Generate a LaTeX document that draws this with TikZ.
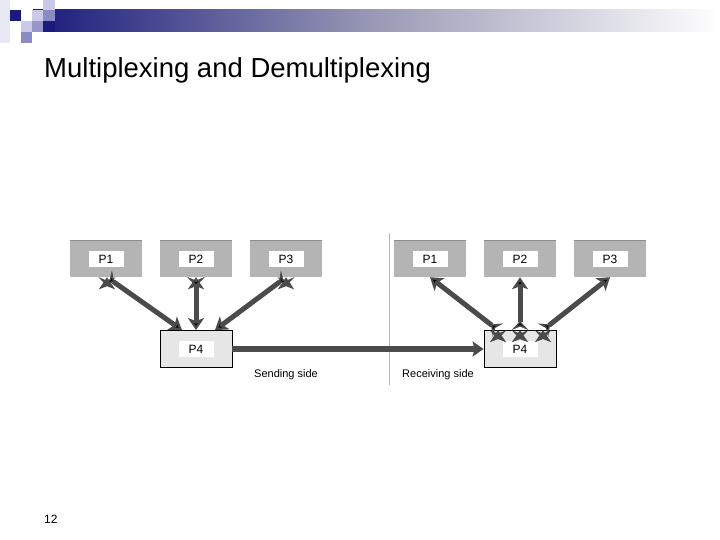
\documentclass[tikz,border=0pt]{standalone}
\usepackage{fontspec}
\setmainfont{Liberation Sans}
\usetikzlibrary{arrows.meta}

\definecolor{navy}{HTML}{1B1B7D}
\definecolor{lavlight}{HTML}{CACAE8}
\definecolor{lavmid}{HTML}{8A8AC4}
\definecolor{lavpale}{HTML}{E9E9F5}
\definecolor{barmid}{HTML}{9A9AB6}
\definecolor{procgray}{HTML}{B4B4B4}
\definecolor{procedge}{HTML}{8E8E8E}
\definecolor{muxgray}{HTML}{E6E6E6}
\definecolor{pipegray}{HTML}{4B4B4B}
\definecolor{sepgray}{HTML}{B8B8B8}

\begin{document}
\begin{tikzpicture}[x=1pt,y=-1pt,
    every node/.style={font=\fontsize{11}{13}\selectfont},
    proc/.style={fill=procgray, minimum width=72pt, minimum height=36pt, inner sep=0pt},
    mux/.style={fill=muxgray, draw=black, line width=0.8pt, minimum width=72pt, minimum height=37pt, inner sep=0pt},
    tag/.style={fill=white, minimum width=35pt, minimum height=16pt, inner sep=0pt, font=\fontsize{12}{14}\selectfont},
    pipe/.style={line width=5pt, draw=pipegray,
        {Stealth[reversed,length=9pt,width=17pt,inset=3.5pt]}-{Stealth[length=12pt,width=16pt,inset=3pt]}},
    trunk/.style={line width=5.5pt, draw=pipegray, -{Stealth[length=11pt,width=15pt,inset=2pt]}}]
    \useasboundingbox (0,0) rectangle (720,540);

    % header bar and squares
    \shade[left color=navy, right color=white, middle color=barmid] (33,10) rectangle (720,32);
    \fill[lavpale] (0,0) rectangle (10,43);
    \fill[navy] (10,10) rectangle (21,21);
    \fill[lavlight] (21,21) rectangle (32,32);
    \fill[lavmid] (21,32) rectangle (32,43);
    \fill[lavlight] (32,10) rectangle (43,21);
    \fill[lavmid!90] (32,21) rectangle (43,32);
    \fill[lavlight] (43,0) rectangle (55,10);
    \fill[lavmid] (43,10) rectangle (55,21);
    \fill[navy] (43,21) rectangle (55,32);

    \node[anchor=base west, inner sep=0pt, font=\fontsize{27.5}{30}\selectfont] (title) at (44,78) {Multiplexing and Demultiplexing};
    \node[anchor=base west, inner sep=0pt, font=\fontsize{12}{14}\selectfont] (pagenum) at (44,523) {12};

    % processes
    \begin{scope}[every node/.append style={proc}]
        \node (sp1) at (106,259) {};
        \node (sp2) at (196,259) {};
        \node (sp3) at (286,259) {};
        \node (rp1) at (430,259) {};
        \node (rp2) at (520,259) {};
        \node (rp3) at (610,259) {};
    \end{scope}
    \foreach \p in {sp1,sp2,sp3,rp1,rp2,rp3}
        \draw[procedge, line width=1pt] (\p.north west) -- (\p.north east);
    \node[mux] (sp4) at (196,349) {};
    \node[mux] (rp4) at (520,349) {};

    \begin{scope}[every node/.append style={tag}]
        \node at (sp1) {P1};
        \node at (sp2) {P2};
        \node at (sp3) {P3};
        \node at (sp4) {P4};
        \node at (rp1) {P1};
        \node at (rp2) {P2};
        \node at (rp3) {P3};
        \node at (rp4) {P4};
    \end{scope}

    % separator
    \coordinate (septop) at (389,233);
    \coordinate (sepbot) at (389,385);
    \draw[sepgray, line width=1pt] (septop) -- (sepbot);

    % connectors
    \path[pipe] ([xshift=1pt]sp1.south) edge ([xshift=-14pt]sp4.north);
    \path[pipe] (sp2.south) edge (sp4.north);
    \path[pipe] (sp3.south) edge ([xshift=19pt]sp4.north);
    \path[pipe] ([xshift=-22pt]rp4.north) edge (rp1.south);
    \path[pipe] (rp4.north) edge (rp2.south);
    \path[pipe] ([xshift=23pt]rp4.north) edge (rp3.south);
    \draw[trunk] (sp4.east) -- (rp4.west);

    \node[anchor=base] (sendlbl) at (286,377) {Sending side};
    \node[anchor=base] (recvlbl) at (438,377) {Receiving side};
\end{tikzpicture}
\end{document}
